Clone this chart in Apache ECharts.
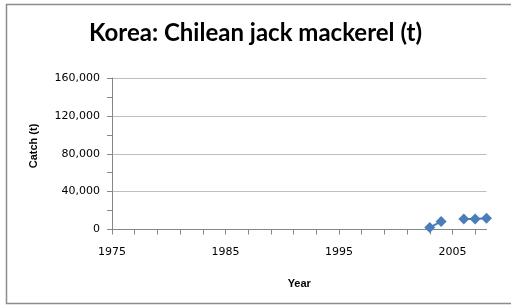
<!DOCTYPE html>
<html>
<head>
<meta charset="utf-8">
<script src="https://cdn.jsdelivr.net/npm/echarts@6/dist/echarts.min.js"></script>
<style>html,body{margin:0;padding:0;background:#fff;}#c{width:511px;height:305px;}</style>
</head>
<body>
<div id="c"></div>
<script>
var yearStart = 1975;
var yearEnd = 2008;
var dataYears = [2003, 2004, 2006, 2007, 2008];
var catchValues = [2000, 8500, 11000, 11000, 12000];
var yTicks = [0, 40000, 80000, 120000, 160000];

var categories = [];
for (var y = yearStart; y <= yearEnd; y++) categories.push(String(y));
var seriesData = categories.map(function (c) {
  var i = dataYears.indexOf(Number(c));
  return i >= 0 ? catchValues[i] : null;
});

var chart = echarts.init(document.getElementById('c'));
var axisGray = '#868686';
chart.setOption({
  animation: false,
  backgroundColor: '#fff',
  title: {
    text: 'Korea: Chilean jack mackerel (t)',
    left: 'center',
    top: 16,
    textStyle: { fontFamily: 'Lato', fontWeight: 'bold', fontSize: 24, color: '#000' }
  },
  grid: { left: 112, top: 78, right: 24.5, bottom: 75.5 },
  xAxis: {
    type: 'category',
    data: categories,
    boundaryGap: false,
    name: 'Year',
    nameLocation: 'middle',
    nameGap: 49,
    nameTextStyle: { fontFamily: 'Liberation Sans', fontWeight: 'bold', fontSize: 11, color: '#000' },
    axisLine: { lineStyle: { color: axisGray, width: 1 } },
    axisTick: { show: true, length: 5, interval: function (i) { return i % 2 === 0; }, lineStyle: { color: axisGray } },
    axisLabel: { interval: function (i) { return i % 10 === 0; }, margin: 17, fontFamily: 'DejaVu Sans', fontSize: 11, color: '#000' },
    splitLine: { show: false }
  },
  yAxis: {
    type: 'value',
    min: yTicks[0],
    max: yTicks[yTicks.length - 1],
    interval: yTicks[1] - yTicks[0],
    axisLine: { show: true, lineStyle: { color: axisGray, width: 1 } },
    axisTick: { show: true, length: 5, lineStyle: { color: axisGray } },
    minorTick: { show: true, splitNumber: 2, length: 5, lineStyle: { color: axisGray } },
    axisLabel: {
      margin: 12, fontFamily: 'DejaVu Sans', fontSize: 11, color: '#000',
      formatter: function (v) { return v.toLocaleString('en-US'); }
    },
    splitLine: { show: true, lineStyle: { color: '#bdbdbd', width: 1 } }
  },
  graphic: [
    { type: 'rect', shape: { x: 6.5, y: 4.5, width: 520, height: 299 }, style: { fill: null, stroke: '#8c8c8c', lineWidth: 1.5 }, silent: true },
    { type: 'text', x: 34, y: 146, rotation: Math.PI / 2,
      style: { text: 'Catch (t)', fontFamily: 'Liberation Sans', fontWeight: 'bold', fontSize: 11, fill: '#000', align: 'center', verticalAlign: 'middle' } }
  ],
  series: [{
    type: 'line',
    data: seriesData,
    connectNulls: false,
    symbol: 'diamond',
    symbolSize: 11,
    showSymbol: true,
    showAllSymbol: true,
    lineStyle: { color: '#4a7ebb', width: 2 },
    itemStyle: { color: '#4a7ebb' }
  }]
});
</script>
</body>
</html>
